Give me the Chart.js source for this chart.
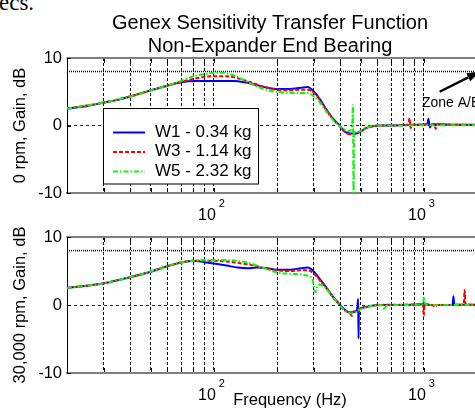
<!DOCTYPE html>
<html>
<head>
<meta charset="utf-8">
<script src="https://cdn.jsdelivr.net/npm/chart.js@4.4.1/dist/chart.umd.min.js"></script>
<style>
html,body{margin:0;padding:0;background:#fff;width:475px;height:408px;overflow:hidden;}
#wrap{position:relative;width:475px;height:408px;overflow:hidden;background:#fff;}
canvas{position:absolute;left:0;top:0;}
#doc{position:absolute;left:-1px;top:-9px;font-size:23px;font-family:'Liberation Serif','Times New Roman',serif;color:#000;line-height:1;white-space:nowrap;}
</style>
</head>
<body>
<div id="wrap">
  <div id="doc">ecs.</div>
  <canvas id="bot" width="520" height="408" style="width:520px;height:408px"></canvas>
  <canvas id="top" width="520" height="408" style="width:520px;height:408px"></canvas>
</div>
<script>
// ---------------- DATA ----------------
const titleLines = ['Genex Sensitivity Transfer Function', 'Non-Expander End Bearing'];
const seriesLabels = ['W1 - 0.34 kg', 'W3 - 1.14 kg', 'W5 - 2.32 kg'];
const topYTitle = '0 rpm, Gain, dB';
const botYTitle = '30,000 rpm, Gain, dB';
const xTitle = 'Frequency (Hz)';
const gridFreqs = [20,30,40,50,60,70,80,90,100,200,300,400,500,600,700,800,900,1000,2000];
const gainTicks = [-10, 0, 10];
const decadeTicks = [100, 1000];
const decadeExps = ['2', '3'];
const refFreq = [20, 2000];
const refGain = [8, 8];
const zoneLabel = 'Zone A/B';
const zoneLabelAt = [980, 2.8];
const zoneArrowFreq = [1190, 1850];
const zoneArrowGain = [5.0, 8.0];

// 0 rpm panel
const w1TopFreq = [20,25,30,35,40,50,60,70,80,100,125,140,160,180,200,230,260,280,300,320,345,370,395,420,445,475,500,530,570,620,700,800,900,1000,1040,1052,1060,1070,1085,1100,1200,1400,2000];
const w1TopGain = [2.5,2.9,3.4,3.8,4.3,5.2,5.9,6.4,6.6,6.6,6.6,6.4,6.0,5.6,5.4,5.4,5.6,5.7,5.0,3.9,2.3,1.0,0.1,-0.9,-1.2,-1.2,-0.9,-0.4,-0.1,0,0,0.05,0.1,0.15,0.2,1.0,0.4,-0.3,0.1,0.2,0.2,0.1,0.1];
const w3TopFreq = [20,30,40,50,60,70,80,90,100,115,130,150,170,200,230,260,280,300,320,345,370,395,420,445,475,500,530,570,620,700,800,845,855,865,880,1000,1120,1140,1160,1400,2000];
const w3TopGain = [2.5,3.4,4.3,5.2,5.9,6.5,6.9,7.2,7.3,7.3,7.0,6.4,5.8,5.3,5.2,5.3,5.3,4.8,3.8,2.2,0.9,0.0,-0.9,-1.3,-1.2,-0.9,-0.4,-0.1,0,0,0.1,0.1,1.1,-0.4,0.1,0.1,0.1,-0.5,0.1,0.1,0.05];
const w5TopFreq = [20,30,40,50,60,70,80,90,100,110,125,140,160,180,200,230,260,280,300,320,345,370,395,420,440,455,460,463,466,470,490,520,560,620,800,1000,1400,2000];
const w5TopGain = [2.5,3.4,4.3,5.2,5.9,6.6,7.3,7.6,7.8,7.8,7.4,6.7,5.8,5.2,5.0,4.8,4.8,4.8,4.3,3.4,2.0,0.8,0.0,-0.6,-0.8,-0.5,3.0,-12,-0.8,-1.0,-0.9,-0.5,-0.1,0,0,0.05,0.05,0];

// 30,000 rpm panel
const w1BotFreq = [20,30,40,50,60,70,80,90,100,115,130,145,160,180,200,230,260,280,300,320,345,370,395,420,445,470,482,487,489,491,495,510,550,600,800,1000,1100,1370,1385,1395,2000];
const w1BotGain = [2.5,3.2,4.1,4.9,5.7,6.25,6.5,6.3,6.1,5.8,5.5,5.4,5.5,5.4,5.2,5.2,5.4,5.5,4.9,3.8,2.5,1.2,0.2,-0.7,-1.1,-1.0,-0.5,0.9,-4.9,-0.8,-0.6,-0.4,-0.2,0,0,0.1,0,0.05,1.3,0.05,0.05];
const w3BotFreq = [20,30,40,50,60,70,80,90,100,115,130,150,170,200,230,260,280,300,320,345,370,395,420,445,455,460,470,490,510,550,600,800,990,1000,1010,1100,1130,1160,1550,1565,1580,2000];
const w3BotGain = [2.5,3.2,4.1,4.9,5.7,6.25,6.5,6.5,6.5,6.4,6.2,5.9,5.5,5.1,5.0,5.1,5.1,4.6,3.6,2.4,1.1,0.1,-0.8,-1.2,-1.6,-1.0,-0.9,-0.6,-0.4,-0.2,0,0.05,0.1,-1.6,0.1,0,-0.3,0,0.05,2.2,0.05,0.05];
const w5BotFreq = [20,30,40,50,60,70,80,90,100,115,130,150,170,200,230,260,280,295,300,305,310,320,345,370,395,420,445,470,500,550,620,640,650,660,800,990,1003,1015,1100,2000];
const w5BotGain = [2.5,3.2,4.1,4.9,5.7,6.25,6.5,6.6,6.6,6.6,6.5,6.1,5.5,4.8,4.6,4.5,4.3,3.8,2.4,1.9,2.6,3.0,2.3,1.1,0.1,-0.8,-1.2,-1.1,-0.6,-0.2,0,-0.2,-0.7,-0.1,0,0.1,1.2,0.1,0,0];

// ---------------- RENDER ----------------
const FONT = "'Liberation Sans', Arial, Helvetica, sans-serif";
const seriesStyles = [
  {borderColor:'#0000ff', borderDash:[], order:3},
  {borderColor:'#ff0000', borderDash:[4,2], order:2},
  {borderColor:'#00ff00', borderDash:[5,2,1.5,2], order:1}
];
function pts(f, g) { return f.map((v, i) => ({x: v, y: g[i]})); }
function makeDatasets(fs, gs) {
  const ds = seriesLabels.map((lab, i) => Object.assign({
    label: lab, data: pts(fs[i], gs[i]), borderWidth: 2, pointRadius: 0, fill: false,
    cubicInterpolationMode: 'monotone', isSeries: true
  }, seriesStyles[i]));
  ds.push({label: 'limit', data: pts(refFreq, refGain), borderColor: '#000', borderWidth: 1.5,
    borderDash: [1, 1], pointRadius: 0, fill: false, order: 4});
  return ds;
}

const decorPlugin = {
  id: 'decor',
  afterDraw(chart, args, o) {
    const {ctx, chartArea: a, scales: {x, y}} = chart;
    ctx.save();
    ctx.setLineDash([]);
    // top frame line
    ctx.strokeStyle = '#808080'; ctx.lineWidth = 2;
    ctx.beginPath(); ctx.moveTo(a.left - 0.5, a.top); ctx.lineTo(a.right, a.top); ctx.stroke();
    // inward tick marks
    ctx.strokeStyle = '#000'; ctx.lineWidth = 1; ctx.beginPath();
    x.ticks.forEach(t => {
      const px = Math.round(x.getPixelForValue(t.value)) + 0.5;
      ctx.moveTo(px, a.bottom - 1); ctx.lineTo(px, a.bottom - 5);
      ctx.moveTo(px, a.top + 1); ctx.lineTo(px, a.top + 5);
    });
    y.ticks.forEach(t => {
      const py = Math.round(y.getPixelForValue(t.value)) + 0.5;
      ctx.moveTo(a.left, py); ctx.lineTo(a.left + 4, py);
    });
    ctx.stroke();
    // decade tick labels 10^n
    ctx.fillStyle = '#000'; ctx.textBaseline = 'alphabetic';
    decadeTicks.forEach((v, i) => {
      const px = x.getPixelForValue(v);
      ctx.font = '16px ' + FONT; ctx.textAlign = 'right';
      ctx.fillText('10', px + 2, a.bottom + 26.5);
      ctx.font = '11px ' + FONT; ctx.textAlign = 'left';
      ctx.fillText(decadeExps[i], px + 5, a.bottom + 13.5);
    });
    if (o.title) {
      ctx.font = '20px ' + FONT; ctx.textAlign = 'center';
      ctx.fillText(titleLines[0], 270, 29);
      ctx.fillText(titleLines[1], 270, 52);
    }
    if (o.xTitle) {
      ctx.font = '16.5px ' + FONT; ctx.textAlign = 'center';
      ctx.fillText(xTitle, 290, 405);
    }
    if (o.zone) {
      ctx.font = '14px ' + FONT; ctx.textAlign = 'left';
      ctx.fillText(zoneLabel, x.getPixelForValue(zoneLabelAt[0]), y.getPixelForValue(zoneLabelAt[1]));
      const x0 = x.getPixelForValue(zoneArrowFreq[0]), y0 = y.getPixelForValue(zoneArrowGain[0]);
      const x1 = x.getPixelForValue(zoneArrowFreq[1]), y1 = y.getPixelForValue(zoneArrowGain[1]);
      const ang = Math.atan2(y1 - y0, x1 - x0);
      const hl = 13, hw = 4.5;
      const bx = x1 - hl * Math.cos(ang), by = y1 - hl * Math.sin(ang);
      ctx.strokeStyle = '#000'; ctx.lineWidth = 2.5;
      ctx.beginPath(); ctx.moveTo(x0, y0); ctx.lineTo(bx, by); ctx.stroke();
      ctx.beginPath();
      ctx.moveTo(x1, y1);
      ctx.lineTo(bx + hw * Math.sin(ang), by - hw * Math.cos(ang));
      ctx.lineTo(bx - hw * Math.sin(ang), by + hw * Math.cos(ang));
      ctx.closePath(); ctx.fillStyle = '#000'; ctx.fill();
    }
    if (o.legend) {
      const L = 103.5, T = 108.5, W = 155, H = 75.5;
      ctx.fillStyle = '#fff'; ctx.fillRect(L, T, W, H);
      ctx.strokeStyle = '#000'; ctx.lineWidth = 1; ctx.setLineDash([]);
      ctx.strokeRect(L, T, W, H);
      const series = chart.data.datasets.filter(d => d.isSeries);
      series.forEach((d, i) => {
        const ry = T + 24 + i * 19.5;
        ctx.strokeStyle = d.borderColor; ctx.lineWidth = d.borderWidth;
        ctx.setLineDash(d.borderDash || []);
        ctx.beginPath(); ctx.moveTo(113, ry); ctx.lineTo(145, ry); ctx.stroke();
        ctx.setLineDash([]);
        ctx.fillStyle = '#000'; ctx.font = '17px ' + FONT; ctx.textAlign = 'left'; ctx.textBaseline = 'middle';
        ctx.fillText(d.label, 155, ry - 0.5);
      });
    }
    ctx.restore();
  }
};

function makeChart(id, datasets, yTitle, padTop, padBottom, decor) {
  return new Chart(document.getElementById(id), {
    type: 'line',
    data: {datasets},
    options: {
      responsive: false, animation: false, devicePixelRatio: 1, events: [],
      layout: {padding: {left: 0, right: 33, top: padTop, bottom: padBottom}},
      plugins: {legend: {display: false}, tooltip: {enabled: false}, decor},
      scales: {
        x: {
          type: 'logarithmic', min: 20, max: 2000,
          afterBuildTicks: s => { s.ticks = gridFreqs.map(v => ({value: v})); },
          afterFit: s => { s.height = 0; },
          ticks: {display: false},
          grid: {color: c => (c.tick && c.tick.value === 20 ? 'rgba(0,0,0,0)' : '#111'), lineWidth: 1, drawTicks: false},
          border: {display: true, color: '#808080', width: 2, dash: [3, 2]}
        },
        y: {
          type: 'linear', min: -10, max: 10,
          afterBuildTicks: s => { s.ticks = gainTicks.map(v => ({value: v})); },
          afterFit: s => { s.width = 67; },
          ticks: {font: {family: FONT, size: 16.5}, color: '#000', padding: 5},
          grid: {color: c => (c.tick && c.tick.value === 0 ? '#222' : 'rgba(0,0,0,0)'), lineWidth: 1, drawTicks: false},
          border: {display: true, color: '#000', width: 1, dash: [3, 3]},
          title: {display: true, text: yTitle, color: '#000', font: {family: FONT, size: 16.5}, padding: {top: 11, bottom: 0}}
        }
      }
    },
    plugins: [decorPlugin]
  });
}

makeChart('bot', makeDatasets([w1BotFreq, w3BotFreq, w5BotFreq], [w1BotGain, w3BotGain, w5BotGain]),
  botYTitle, 237, 35, {xTitle: true});
makeChart('top', makeDatasets([w1TopFreq, w3TopFreq, w5TopFreq], [w1TopGain, w3TopGain, w5TopGain]),
  topYTitle, 58, 215, {title: true, legend: true, zone: true});
</script>
</body>
</html>
